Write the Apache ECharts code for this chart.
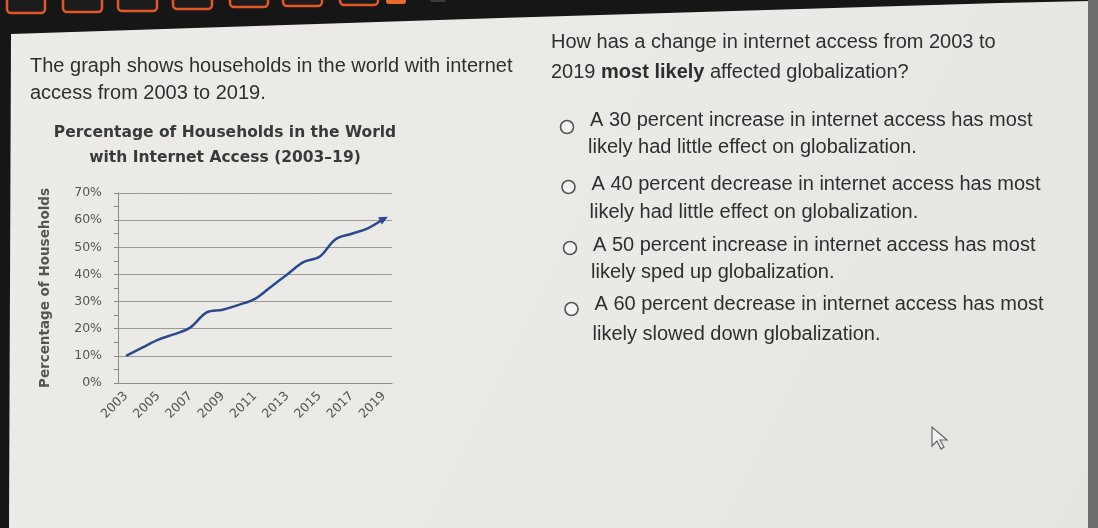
<!DOCTYPE html>
<html>
<head>
<meta charset="utf-8">
<script src="https://cdn.jsdelivr.net/npm/echarts@6/dist/echarts.min.js"></script>
<style>
html,body{margin:0;padding:0;background:#161616;}
#main{width:1098px;height:528px;}
</style>
</head>
<body>
<div id="main"></div>
<script>
// ---- data ----
var years = ['2003','2004','2005','2006','2007','2008','2009','2010','2011','2012','2013','2014','2015','2016','2017','2018','2019'];
var householdsPct = [10, 13, 16, 18, 20.5, 26, 27, 28.8, 31, 35.5, 40, 44.5, 46.5, 53, 55, 57, 60.5];
var yTicks = [0, 10, 20, 30, 40, 50, 60, 70];
var chartTitle = ['Percentage of Households in the World', 'with Internet Access (2003\u201319)'];
var yAxisName = 'Percentage of Households';
var introText = ['The graph shows households in the world with internet', 'access from 2003 to 2019.'];
var questionText = ['How has a change in internet access from 2003 to', '2019 {b|most likely} affected globalization?'];
var options = [
  ['A 30 percent increase in internet access has most', 'likely had little effect on globalization.'],
  ['A 40 percent decrease in internet access has most', 'likely had little effect on globalization.'],
  ['A 50 percent increase in internet access has most', 'likely sped up globalization.'],
  ['A 60 percent decrease in internet access has most', 'likely slowed down globalization.']
];

var chart = echarts.init(document.getElementById('main'), null, {renderer: 'canvas'});

var txtColor = '#2f2f2f';
var qFont = '20px "Liberation Sans", Arial, sans-serif';
var chartFont = '"DejaVu Sans", Verdana, sans-serif';

var graphics = [];
// panel
graphics.push({type:'polygon', z:-10, silent:true,
  shape:{points:[[11,34],[500,18],[1000,3],[1090,1],[1090,528],[9,528]]},
  style:{fill:new echarts.graphic.LinearGradient(0,0,1,1,[{offset:0,color:'#ecebe8'},{offset:0.6,color:'#e9e9e6'},{offset:1,color:'#e4e4e0'}])}});
// right shadow strip
graphics.push({type:'rect', z:-9, silent:true, shape:{x:1088,y:0,width:10,height:528}, style:{fill:'#6d6d6b'}});
// top tab boxes
var boxes = [[7,45,13],[63,102,12],[118,157,11],[173,212,9],[230,268,7],[283,322,6],[340,378,5]];
boxes.forEach(function(b){
  graphics.push({type:'rect', silent:true, shape:{x:b[0], y:b[2]-24, width:b[1]-b[0], height:24, r:4},
    style:{fill:'#1c1c1c', stroke:'#e2562a', lineWidth:2.5}});
});
graphics.push({type:'rect', silent:true, shape:{x:386,y:-20,width:20,height:24,r:3}, style:{fill:'#e8692c'}});
graphics.push({type:'rect', silent:true, shape:{x:430,y:-20,width:16,height:22,r:2}, style:{fill:'#3a3a3a'}});

// intro text
introText.forEach(function(t,i){
  graphics.push({type:'text', x:30, y:66 + i*27, style:{text:t, font:qFont, fill:txtColor, verticalAlign:'middle'}});
});
// question text
questionText.forEach(function(t,i){
  graphics.push({type:'text', x:551, y:42 + i*30, style:{text:t, font:qFont, fill:txtColor, verticalAlign:'middle',
    rich:{b:{font:'bold 20px "Liberation Sans", Arial, sans-serif', fill:txtColor, verticalAlign:'middle'}}}});
});
// chart title
chartTitle.forEach(function(t,i){
  graphics.push({type:'text', x:225, y:133 + i*25, style:{text:t, font:'bold 15.5px ' + chartFont, fill:'#3a3a3a', align:'center', verticalAlign:'middle'}});
});
// options
var optY = [[127,120,147],[187,184,212],[248,245,272],[309,304,334]];
options.forEach(function(o,i){
  var cx = 567 + i*1.5;
  graphics.push({type:'circle', shape:{cx:cx, cy:optY[i][0], r:6.5}, style:{fill:'#f4f4f2', stroke:'#555', lineWidth:1.6}});
  graphics.push({type:'text', x:590+i*1.5, y:optY[i][1], style:{text:o[0], font:qFont, fill:txtColor, verticalAlign:'middle'}});
  graphics.push({type:'text', x:588+i*1.5, y:optY[i][2], style:{text:o[1], font:qFont, fill:txtColor, verticalAlign:'middle'}});
});
// mouse cursor
graphics.push({type:'polygon', shape:{points:[[932,427],[932,446],[937,441],[941,449],[944,447],[940,440],[947,440]]},
  style:{fill:'#f2f2f0', stroke:'#666', lineWidth:1.2}});

var lastIdx = householdsPct.length - 1;
var seriesData = householdsPct.map(function(v,i){
  if (i === lastIdx) return {value:v, symbol:'triangle', symbolSize:[8,9], symbolRotate:-62, itemStyle:{color:'#2b4a8e'}};
  return v;
});

chart.setOption({
  backgroundColor: 'transparent',
  animation: false,
  graphic: graphics,
  grid: {left:118, right:706, top:193, bottom:145, containLabel:false},
  xAxis: {
    type:'category', data: years, boundaryGap:true,
    axisLine:{show:true, lineStyle:{color:'#8a8a8a', width:1}},
    axisTick:{show:false},
    axisLabel:{interval:1, rotate:45, fontSize:12.5, color:'#555', margin:11, fontFamily:chartFont},
    splitLine:{show:false}
  },
  yAxis: {
    type:'value', min:0, max:70, interval:10,
    name: yAxisName, nameLocation:'middle', nameGap:66, nameRotate:90,
    nameTextStyle:{fontSize:13.5, fontWeight:'bold', color:'#555', fontFamily:chartFont},
    axisLine:{show:true, lineStyle:{color:'#8a8a8a'}},
    axisTick:{show:true, length:4, lineStyle:{color:'#8a8a8a'}},
    minorTick:{show:true, splitNumber:2, length:4, lineStyle:{color:'#8a8a8a'}},
    axisLabel:{formatter:function(v){return v+'%';}, fontSize:12.5, color:'#555', margin:16, fontFamily:chartFont},
    splitLine:{show:true, lineStyle:{color:'#9a9a9a', width:1}}
  },
  series: [{
    type:'line', data: seriesData, smooth:0.35, symbol:'none', showSymbol:true,
    lineStyle:{color:'#2b4a8e', width:2.5},
    itemStyle:{color:'#2b4a8e'}
  }]
});
</script>
</body>
</html>
